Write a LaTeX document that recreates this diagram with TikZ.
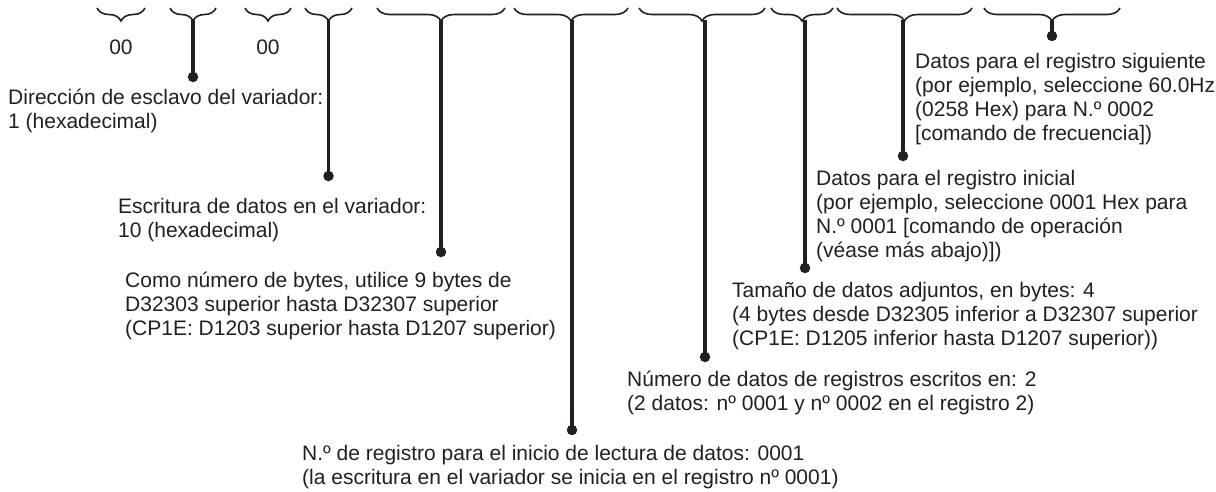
\documentclass[tikz,border=0pt]{standalone}
\usepackage{fontspec}
\setmainfont{Liberation Sans}
\usetikzlibrary{decorations.pathreplacing}
\definecolor{ink}{HTML}{231F20}
\begin{document}
\begin{tikzpicture}[x=1pt,y=-1pt,
  brc/.style={draw=ink, line width=1.6pt, decorate, decoration={brace, mirror, amplitude=13pt}},
  conn/.style={draw=ink, line width=3.2pt},
  dot/.style={circle, fill=ink, inner sep=0pt, minimum size=10.5pt},
  txt/.style={anchor=north west, inner sep=0pt, align=left, text=ink, font=\fontsize{21}{24}\selectfont},
  num/.style={inner sep=0pt, text=ink, font=\fontsize{21}{24}\selectfont}]
\useasboundingbox (0,0) rectangle (1216,491);
% braces
\draw[brc] (97,8) -- (145,8);
\draw[brc] (170,8) -- (216,8);
\draw[brc] (245,8) -- (291,8);
\draw[brc] (305,8) -- (352,8);
\draw[brc] (377,8) -- (505,8);
\draw[brc] (514,8) -- (628,8);
\draw[brc] (639,8) -- (765,8);
\draw[brc] (771,8) -- (833,8);
\draw[brc] (837,8) -- (972,8);
\draw[brc] (984,8) -- (1120,8);
% brace tips
\coordinate (t2) at (193,20);
\coordinate (t4) at (328.5,20);
\coordinate (t5) at (441,20);
\coordinate (t6) at (572,20);
\coordinate (t7) at (705,20);
\coordinate (t8) at (805,20);
\coordinate (t9) at (903,20);
\coordinate (t10) at (1052,20);
% zero labels
\node[num] (z1) at (121,47) {00};
\node[num] (z3) at (268,47) {00};
% dots
\node[dot] (d2) at (193,77) {};
\node[dot] (d4) at (328.5,176) {};
\node[dot] (d5) at (441,252) {};
\node[dot] (d6) at (572,430) {};
\node[dot] (d7) at (705,357) {};
\node[dot] (d8) at (805,268) {};
\node[dot] (d9) at (903,156) {};
\node[dot] (d10) at (1052,36) {};
% connectors
\draw[conn] (t2) -- (d2.center);
\draw[conn] (t4) -- (d4.center);
\draw[conn] (t5) -- (d5.center);
\draw[conn] (t6) -- (d6.center);
\draw[conn] (t7) -- (d7.center);
\draw[conn] (t8) -- (d8.center);
\draw[conn] (t9) -- (d9.center);
\draw[conn] (t10) -- (d10.center);
% texts
\node[txt] (l2) at (8,87) {\strut Dirección de esclavo del variador:\\1 (hexadecimal)};
\node[txt] (l4) at (118,196) {\strut Escritura de datos en el variador:\\10 (hexadecimal)};
\node[txt] (l5) at (125,270) {\strut Como número de bytes, utilice 9 bytes de\\D32303 superior hasta D32307 superior\\(CP1E: D1203 superior hasta D1207 superior)};
\node[txt] (l6) at (302,443) {\strut N.º de registro para el inicio de lectura de datos: 0001\\(la escritura en el variador se inicia en el registro nº 0001)};
\node[txt] (l7) at (627,369) {\strut Número de datos de registros escritos en: 2\\(2 datos: nº 0001 y nº 0002 en el registro 2)};
\node[txt] (l8) at (732,280) {\strut Tamaño de datos adjuntos, en bytes: 4\\(4 bytes desde D32305 inferior a D32307 superior\\(CP1E: D1205 inferior hasta D1207 superior))};
\node[txt] (l9) at (816,168) {\strut Datos para el registro inicial\\(por ejemplo, seleccione 0001 Hex para\\N.º 0001 {[}comando de operación\\(véase más abajo){]})};
\node[txt] (l10) at (915,51) {\strut Datos para el registro siguiente\\(por ejemplo, seleccione 60.0Hz\\(0258 Hex) para N.º 0002\\{[}comando de frecuencia{]})};
\end{tikzpicture}
\end{document}
